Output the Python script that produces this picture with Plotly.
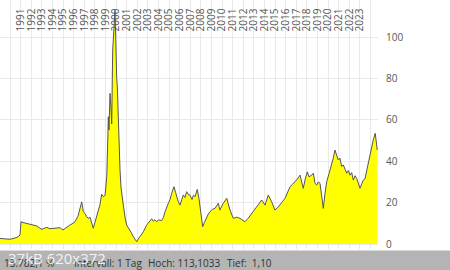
import plotly.graph_objects as go

# decimal years and price values
years = [1989.05, 1989.52, 1990.00, 1990.37, 1990.65, 1990.94, 1991.03, 1991.22, 1991.60, 1991.88,
         1992.16, 1992.54, 1992.82, 1993.01, 1993.30, 1993.48, 1993.77, 1994.05, 1994.43, 1994.71,
         1994.99, 1995.28, 1995.65, 1995.94, 1996.13, 1996.41, 1996.60, 1996.76, 1996.91, 1997.07,
         1997.23, 1997.38, 1997.54, 1997.68, 1997.85, 1998.01, 1998.17, 1998.30, 1998.48, 1998.64,
         1998.80, 1998.96, 1999.12, 1999.19, 1999.27, 1999.33, 1999.43, 1999.52, 1999.59, 1999.68,
         1999.76, 1999.83, 1999.90, 1999.95, 1999.99, 2000.06, 2000.12, 2000.21, 2000.30, 2000.37,
         2000.47, 2000.53, 2000.68, 2000.84, 2001.00, 2001.15, 2001.31, 2001.47, 2001.63, 2001.79,
         2001.95, 2002.10, 2002.26, 2002.42, 2002.57, 2002.89, 2003.04, 2003.20, 2003.36, 2003.51,
         2003.67, 2003.83, 2003.98, 2004.14, 2004.30, 2004.46, 2004.62, 2004.93, 2005.09, 2005.25,
         2005.46, 2005.61, 2005.72, 2005.87, 2006.03, 2006.19, 2006.34, 2006.50, 2006.66, 2006.81,
         2006.97, 2007.16, 2007.30, 2007.45, 2007.66, 2007.82, 2007.92, 2008.04, 2008.17, 2008.34,
         2008.55, 2008.70, 2008.86, 2009.10, 2009.33, 2009.64, 2009.80, 2010.09, 2010.44, 2010.59,
         2010.75, 2011.06, 2011.38, 2011.69, 2011.93, 2012.16, 2012.47, 2012.79, 2013.01, 2013.27,
         2013.48, 2013.74, 2014.05, 2014.36, 2014.68, 2014.99, 2015.23, 2015.47, 2015.70, 2015.94,
         2016.17, 2016.41, 2016.64, 2016.88, 2017.12, 2017.35, 2017.66, 2017.85, 2018.04, 2018.20,
         2018.46, 2018.61, 2018.77, 2018.93, 2019.08, 2019.24, 2019.40, 2019.55, 2019.71, 2019.87,
         2020.09, 2020.34, 2020.49, 2020.65, 2020.81, 2020.96, 2021.12, 2021.28, 2021.44, 2021.60,
         2021.76, 2021.91, 2022.07, 2022.23, 2022.38, 2022.54, 2022.70, 2022.85, 2023.01, 2023.17,
         2023.32, 2023.48, 2023.64, 2023.79, 2023.95, 2024.11, 2024.26, 2024.45, 2024.55, 2024.64]

prices = [2.7, 2.5, 2.3, 2.8, 3.2, 4.3, 10.8, 10.4, 10.0, 9.7,
          9.2, 8.7, 7.6, 7.1, 7.8, 8.0, 7.4, 7.5, 7.8, 7.9,
          6.8, 8.0, 9.2, 10.0, 10.8, 13.5, 17.5, 20.4, 15.6, 14.8,
          13.2, 12.4, 13.0, 10.0, 7.6, 10.5, 13.5, 16.5, 19.0, 24.0,
          22.9, 23.5, 32.5, 45.0, 61.5, 55.0, 72.8, 66.0, 58.0, 93.7,
          99.0, 106.6, 113.1, 102.0, 88.9, 80.0, 76.0, 60.0, 48.0, 36.0,
          27.0, 24.5, 17.0, 13.0, 9.2, 8.0, 6.8, 5.2, 3.5, 2.4,
          1.1, 2.5, 3.8, 4.5, 5.9, 9.2, 10.0, 11.2, 12.2, 11.0,
          11.8, 10.8, 11.5, 11.6, 11.3, 12.8, 15.6, 19.7, 21.5, 24.5,
          27.7, 25.0, 22.9, 20.5, 18.8, 21.5, 23.7, 22.5, 25.3, 24.0,
          23.7, 21.5, 23.5, 22.9, 26.4, 22.0, 18.0, 12.0, 8.4, 10.5,
          13.2, 14.5, 15.6, 16.8, 17.2, 19.7, 16.4, 19.5, 22.1, 19.0,
          16.4, 12.4, 13.0, 12.4, 11.6, 10.8, 12.5, 14.8, 16.0, 18.0,
          19.5, 21.3, 18.8, 23.7, 20.4, 16.4, 17.5, 18.8, 20.5, 22.1,
          25.0, 27.7, 28.8, 30.1, 31.5, 33.3, 26.9, 31.5, 34.9, 32.5,
          33.3, 34.2, 29.3, 28.5, 30.0, 29.3, 24.0, 17.2, 24.5, 30.1,
          34.0, 38.2, 41.5, 45.4, 42.5, 40.6, 41.5, 37.5, 38.2, 36.5,
          34.2, 35.5, 33.3, 34.5, 30.9, 33.0, 31.7, 29.5, 26.9, 29.0,
          30.9, 31.5, 35.7, 39.0, 42.2, 46.5, 50.2, 53.5, 49.0, 45.4]

tick_years = list(range(1989, 2025))
tick_labels = [str(y) if 1991 <= y <= 2023 else "" for y in tick_years]
y_ticks = [0, 20, 40, 60, 80, 100]

footer_texts = ["13.782,1 %", "Intervall: 1 Tag", "Hoch: 113,1033", "Tief:  1,10"]
footer_x_px = [2, 72, 146, 225]

W, H = 450, 270
ml, mr, mt, mb = 0, 72, 0, 21
pw, ph = W - ml - mr, H - mt - mb

fig = go.Figure()
fig.add_trace(go.Scatter(
    x=years, y=prices, mode="lines", fill="tozeroy",
    fillcolor="#ffff00", line=dict(color="#555555", width=1),
    hoverinfo="skip", showlegend=False))

fig.update_layout(
    width=W, height=H,
    margin=dict(l=ml, r=mr, t=mt, b=mb, pad=0),
    paper_bgcolor="white", plot_bgcolor="white",
    font=dict(family="Open Sans, sans-serif", color="#555555", size=10),
    xaxis=dict(range=[1989.05, 2024.71], side="top", tickmode="array",
               tickvals=tick_years, ticktext=tick_labels, tickangle=-90,
               ticklabelposition="inside", showgrid=True, gridcolor="#e9e9e9",
               gridwidth=1, zeroline=False, showline=False, ticks="",
               tickfont=dict(size=10, color="#555555")),
    yaxis=dict(range=[-2.4, 117.9], side="right", tickmode="array",
               tickvals=y_ticks, showgrid=True, gridcolor="#e9e9e9",
               zeroline=False, showline=False, ticks="outside", ticklen=5,
               tickcolor="rgba(0,0,0,0)", tickfont=dict(size=10, color="#555555")),
)

# footer bar
fig.add_shape(type="rect", xref="paper", yref="paper",
              x0=-0.01, x1=W / pw + 0.01, y0=-(H - ph) / ph - 0.01, y1=-1.5 / ph,
              fillcolor="#b4b4b4", line=dict(width=0), layer="above")
for t, xp in zip(footer_texts, footer_x_px):
    fig.add_annotation(text=t, xref="paper", yref="paper", x=xp / pw, y=-14 / ph,
                       xanchor="left", yanchor="middle", showarrow=False,
                       font=dict(size=10, color="#333333"))
fig.add_annotation(text="37kB 620x372", xref="paper", yref="paper", x=6 / pw, y=-9 / ph,
                   xanchor="left", yanchor="middle", showarrow=False,
                   font=dict(size=15, color="rgba(255,255,255,0.85)"))

fig.write_html("out.html")
